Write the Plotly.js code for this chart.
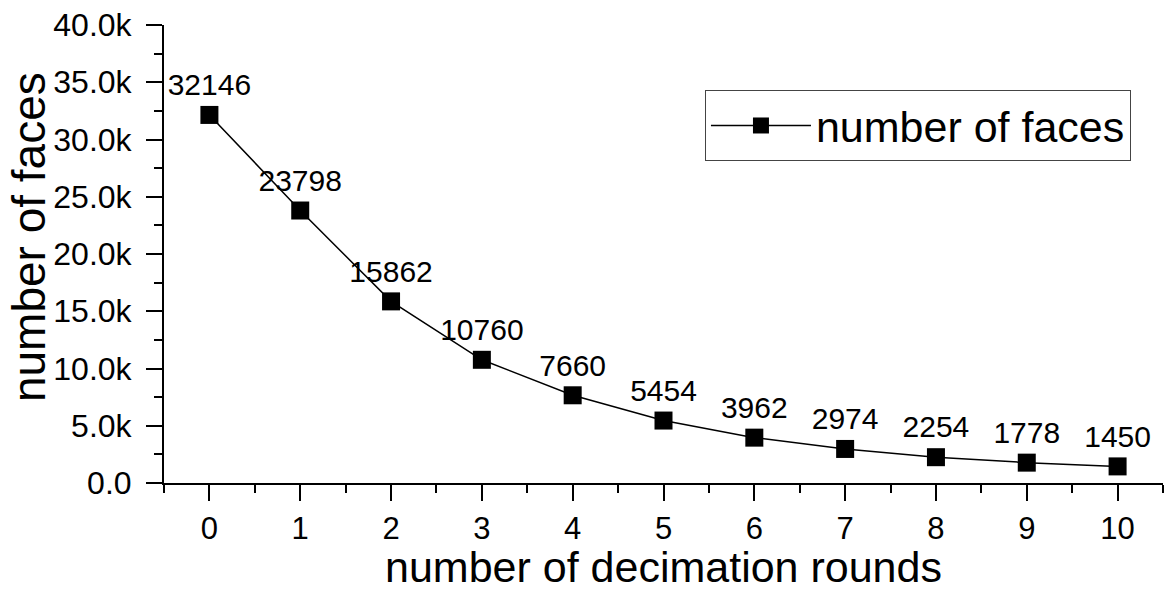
<!DOCTYPE html>
<html>
<head>
<meta charset="utf-8">
<script src="https://cdn.plot.ly/plotly-3.0.1.min.js"></script>
<style>html,body{margin:0;padding:0;background:#fff;}#chart{width:1168px;height:591px;}</style>
</head>
<body>
<div id="chart"></div>
<script>
const rounds = [0, 1, 2, 3, 4, 5, 6, 7, 8, 9, 10];
const faces = [32146, 23798, 15862, 10760, 7660, 5454, 3962, 2974, 2254, 1778, 1450];
const faceLabels = faces.map(String);
const yTickVals = [0, 5000, 10000, 15000, 20000, 25000, 30000, 35000, 40000];
const yTickText = ["0.0", "5.0k", "10.0k", "15.0k", "20.0k", "25.0k", "30.0k", "35.0k", "40.0k"];
const seriesName = "number of faces";
const xTitle = "number of decimation rounds";
const yTitle = "number of faces";

const FONT = "Liberation Sans, Arial, Helvetica, sans-serif";

const trace = {
  x: rounds,
  y: faces,
  type: "scatter",
  mode: "lines+markers+text",
  name: seriesName,
  text: faceLabels,
  textposition: "top center",
  textfont: {family: FONT, size: 30, color: "#000"},
  line: {color: "#000", width: 1.5},
  marker: {symbol: "square", size: 18, color: "#000"},
  cliponaxis: false
};

const layout = {
  width: 1168,
  height: 591,
  margin: {l: 164, r: 5, t: 25, b: 108},
  paper_bgcolor: "#fff",
  plot_bgcolor: "#fff",
  font: {family: FONT, color: "#000"},
  showlegend: true,
  legend: {
    x: 0.5415, y: 0.858, xanchor: "left", yanchor: "top",
    bgcolor: "#fff", bordercolor: "#444", borderwidth: 1,
    font: {family: FONT, size: 43, color: "#000"},
    itemwidth: 100
  },
  xaxis: {
    range: [-0.5, 10.5],
    tickmode: "linear", tick0: 0, dtick: 1,
    ticks: "outside", ticklen: 16, tickwidth: 2, tickcolor: "#000",
    minor: {tickmode: "linear", tick0: 0.5, dtick: 1, ticks: "outside", ticklen: 8, tickwidth: 2, tickcolor: "#000", showgrid: false},
    showline: true, linewidth: 2, linecolor: "#000",
    showgrid: false, zeroline: false,
    ticklabelstandoff: 1,
    tickfont: {family: FONT, size: 31, color: "#000"},
    automargin: false,
    title: {text: xTitle, standoff: 6, font: {family: FONT, size: 43, color: "#000"}}
  },
  yaxis: {
    range: [0, 40000],
    tickmode: "array", tickvals: yTickVals, ticktext: yTickText,
    ticks: "outside", ticklen: 16, tickwidth: 2, tickcolor: "#000",
    minor: {tickmode: "linear", tick0: 2500, dtick: 5000, ticks: "outside", ticklen: 8, tickwidth: 2, tickcolor: "#000", showgrid: false},
    showline: true, linewidth: 2, linecolor: "#000",
    showgrid: false, zeroline: false,
    ticklabelstandoff: 8,
    tickfont: {family: FONT, size: 32, color: "#000"},
    automargin: false
  },
  xaxis2: {
    overlaying: "x", side: "top", anchor: "y",
    range: [0, 10],
    tickmode: "linear", tick0: 0, dtick: 2,
    ticks: "inside", ticklen: 16, tickwidth: 2, tickcolor: "#000",
    minor: {tickmode: "linear", tick0: 1, dtick: 2, ticks: "inside", ticklen: 8, tickwidth: 2, tickcolor: "#000", showgrid: false},
    showticklabels: false,
    showline: true, linewidth: 2, linecolor: "#000",
    showgrid: false, zeroline: false
  },
  yaxis2: {
    overlaying: "y", side: "right", anchor: "x",
    range: [0, 10],
    tickmode: "linear", tick0: 0, dtick: 2,
    ticks: "inside", ticklen: 16, tickwidth: 2, tickcolor: "#000",
    minor: {tickmode: "linear", tick0: 1, dtick: 2, ticks: "inside", ticklen: 8, tickwidth: 2, tickcolor: "#000", showgrid: false},
    showticklabels: false,
    showline: true, linewidth: 2, linecolor: "#000",
    showgrid: false, zeroline: false
  },
  annotations: [{
    text: yTitle,
    xref: "paper", yref: "paper",
    x: -0.1351, y: 0.537,
    xanchor: "center", yanchor: "middle",
    textangle: -90,
    showarrow: false,
    font: {family: FONT, size: 46, color: "#000"}
  }]
};

Plotly.newPlot("chart", [trace], layout, {displayModeBar: false, staticPlot: true});
</script>
</body>
</html>
